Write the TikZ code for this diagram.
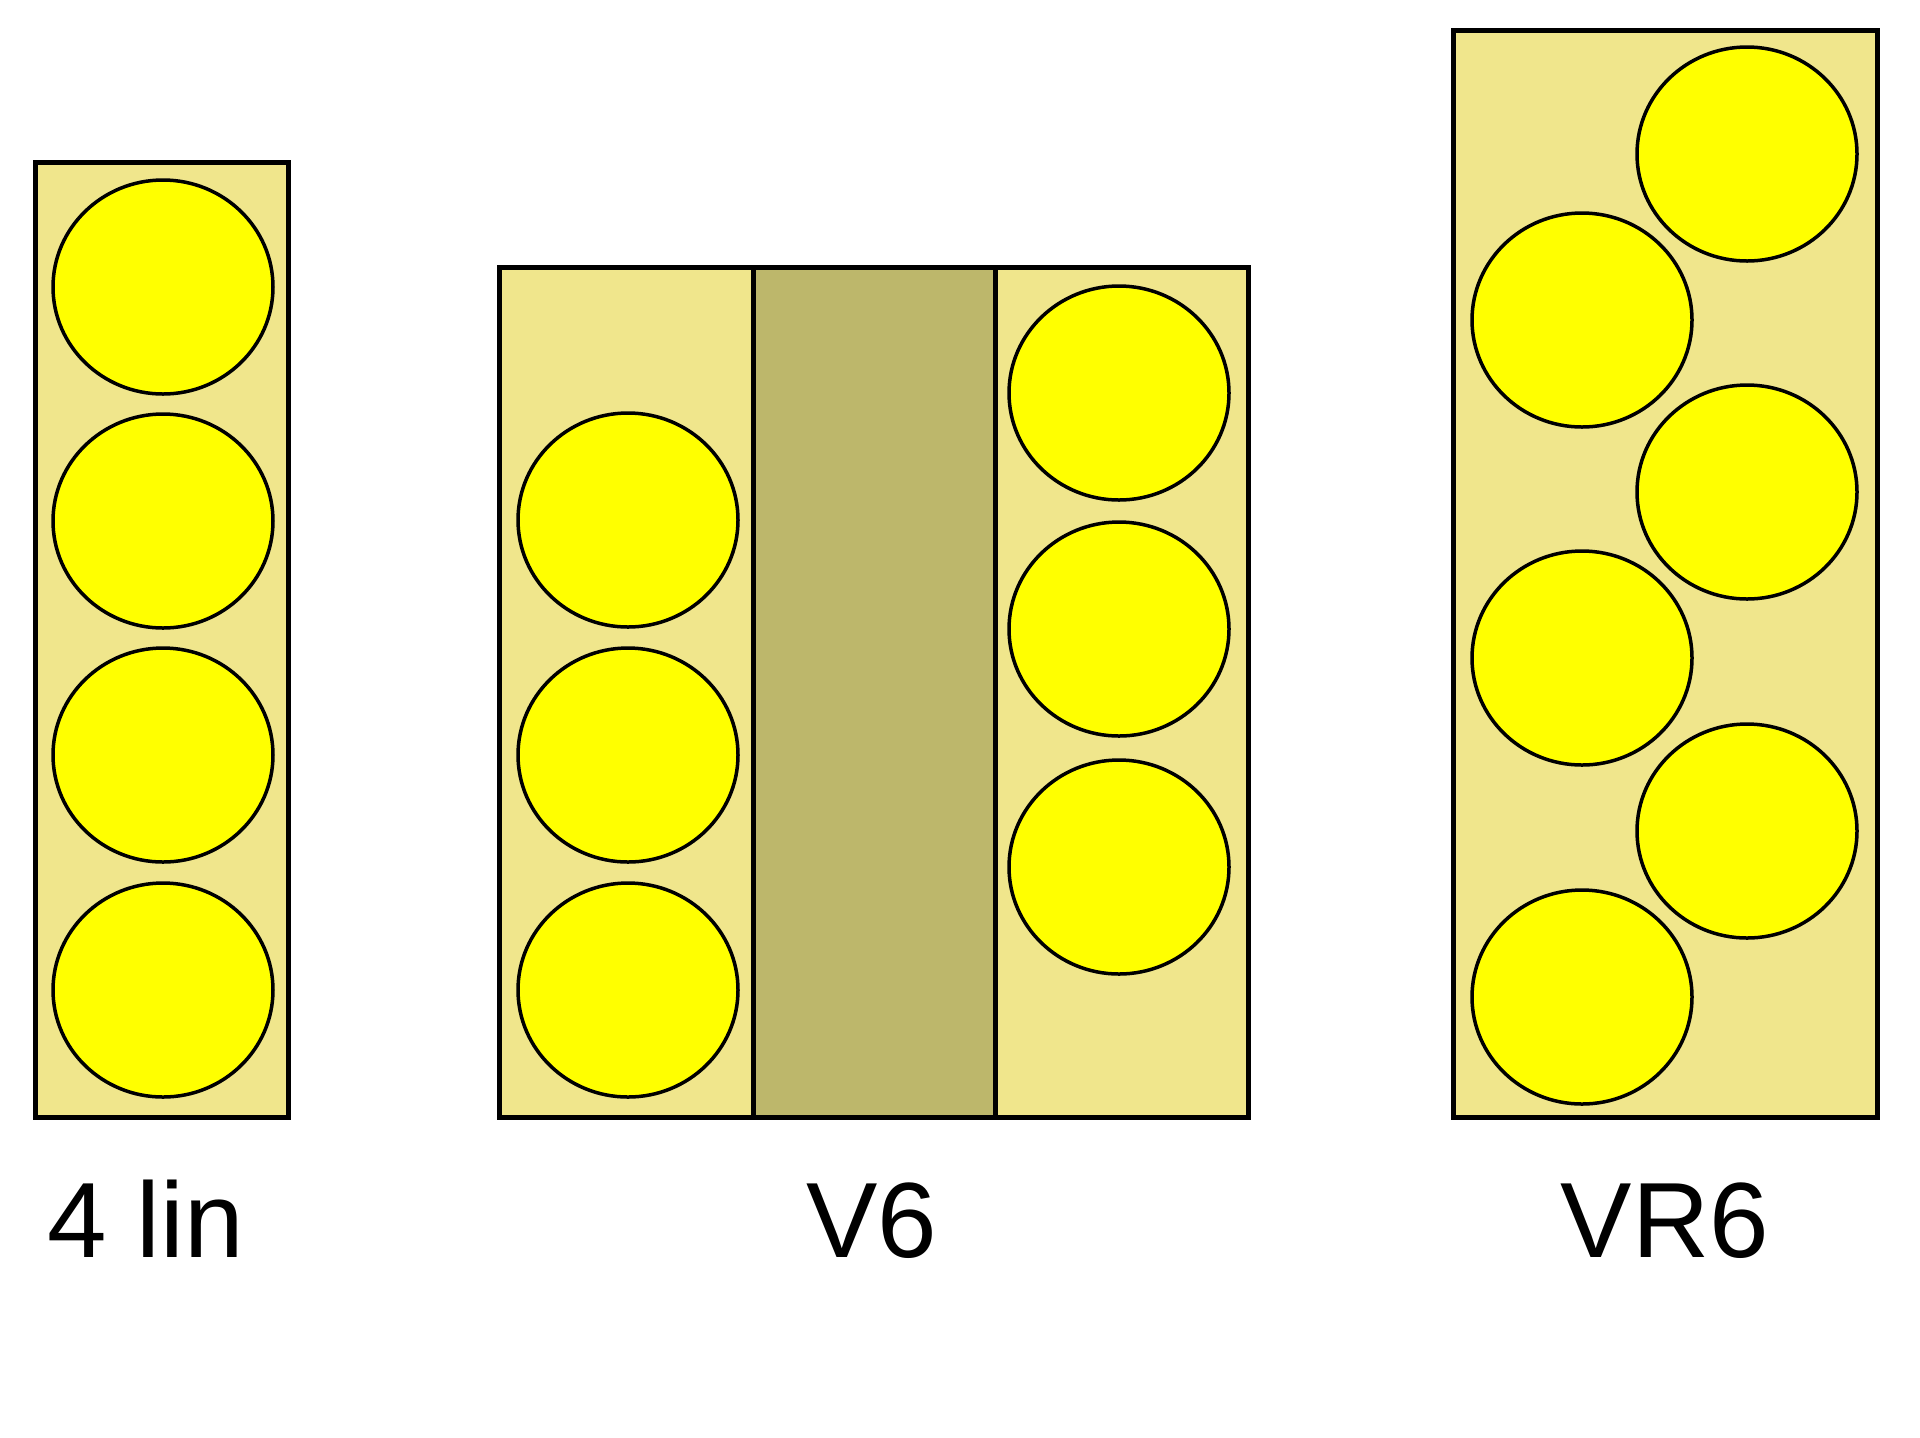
\documentclass[tikz,border=0pt]{standalone}
\usepackage{fontspec}
\setmainfont{Liberation Sans}
\usetikzlibrary{shapes.geometric}
\definecolor{boxfill}{HTML}{F0E68C}
\definecolor{darkfill}{HTML}{BDB76B}
\definecolor{cylfill}{HTML}{FFFF00}
\begin{document}
\begin{tikzpicture}[x=0.5pt,y=-0.5pt,
  block/.style={draw=black,line width=2.5pt,fill=boxfill},
  vcore/.style={draw=black,line width=2.5pt,fill=darkfill},
  cyl/.style={ellipse,draw=black,line width=1.75pt,fill=cylfill,inner sep=0pt,minimum width=110pt,minimum height=107pt},
  lbl/.style={anchor=base,inner sep=0pt,font=\fontsize{53.5}{64}\selectfont}]
\useasboundingbox (0,0) rectangle (1920,1437);
% 4 lin
\draw[block] (35,162) rectangle (288,1117);
\node[cyl] (a1) at (163,287) {};
\node[cyl] (a2) at (163,521) {};
\node[cyl] (a3) at (163,755) {};
\node[cyl] (a4) at (163,990) {};
\node[lbl] (la) at (146,1257) {4 lin};
% V6
\draw[block] (499,267) rectangle (1248,1117);
\draw[vcore] (753,267) rectangle (995,1117);
\node[cyl] (b1) at (628,520) {};
\node[cyl] (b2) at (628,755) {};
\node[cyl] (b3) at (628,990) {};
\node[cyl] (c1) at (1119,393) {};
\node[cyl] (c2) at (1119,629) {};
\node[cyl] (c3) at (1119,867) {};
\node[lbl] (lb) at (872,1257) {V6};
% VR6
\draw[block] (1453,30) rectangle (1877,1117);
\node[cyl] (d1) at (1747,154) {};
\node[cyl] (d2) at (1582,320) {};
\node[cyl] (d3) at (1747,492) {};
\node[cyl] (d4) at (1582,658) {};
\node[cyl] (d5) at (1747,831) {};
\node[cyl] (d6) at (1582,997) {};
\node[lbl] (lc) at (1665,1257) {VR6};
\end{tikzpicture}
\end{document}
